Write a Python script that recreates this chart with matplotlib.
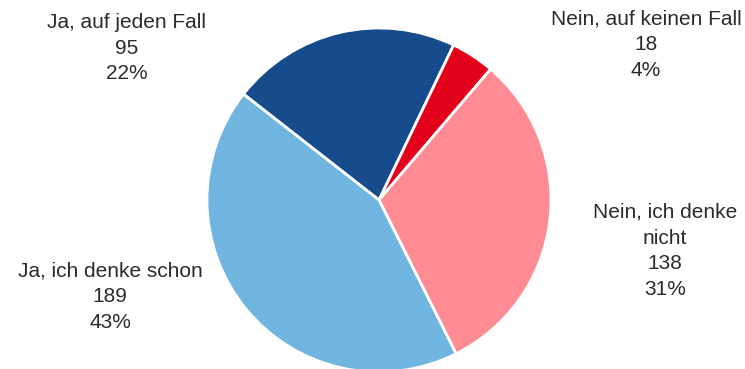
import matplotlib.pyplot as plt

# answer categories, clockwise starting at the dark blue slice
categories = ['Ja, auf jeden Fall', 'Nein, auf keinen Fall', 'Nein, ich denke\nnicht', 'Ja, ich denke schon']
counts = [95, 18, 138, 189]
percents = ['22%', '4%', '31%', '43%']
colors = ['#174C8C', '#E2001A', '#FF8B95', '#6FB5E0']

W, H = 745, 369
CX, CY, R = 379, 200, 172  # pie centre / radius in pixels

fig = plt.figure(figsize=(W / 100, H / 100), dpi=100)
ax = fig.add_axes([0, 0, 1, 1])

ax.pie(counts, colors=colors, startangle=142, counterclock=False,
       wedgeprops=dict(edgecolor='white', linewidth=2.0))
ax.set_xlim(-CX / R, (W - CX) / R)
ax.set_ylim(-(H - CY) / R, CY / R)
ax.set_aspect('auto')
ax.axis('off')

# label block centres in pixels (x, y from top)
label_pos = [(127, 48), (646, 45), (665, 251), (110, 297)]
for cat, n, pct, (px, py) in zip(categories, counts, percents, label_pos):
    fig.text(px / W, 1 - py / H, f'{cat}\n{n}\n{pct}', ha='center', va='center',
             fontsize=15, family='Liberation Sans', color='#2b2b2b', linespacing=1.45)

fig.savefig('out.png', dpi=100)
